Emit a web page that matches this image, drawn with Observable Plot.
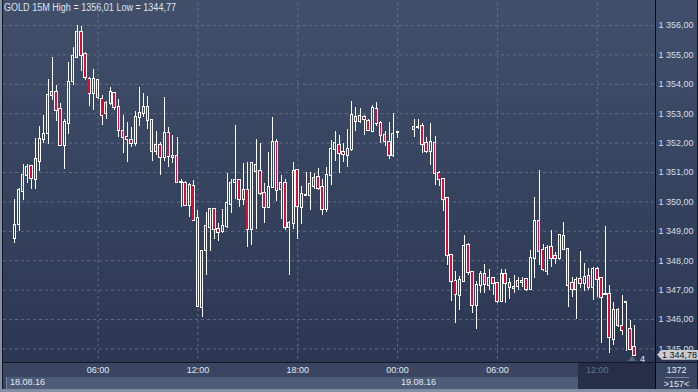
<!DOCTYPE html>
<html><head><meta charset="utf-8">
<script src="https://cdn.jsdelivr.net/npm/d3@7"></script>
<script src="https://cdn.jsdelivr.net/npm/@observablehq/plot@0.6"></script>
<style>
html,body{margin:0;padding:0;background:#1a2130;}
#wrap{position:relative;width:698px;height:392px;overflow:hidden;background:#8390a4;font-family:"Liberation Sans",Arial,sans-serif;}
.a{position:absolute;}
#chart{position:absolute;left:0;top:0;}
</style></head><body>
<div id="wrap">
  <div class="a" style="left:2px;top:0;width:696px;height:389px;background:#121826"></div>
  <div class="a" style="left:3px;top:0;width:694px;height:362px;background:linear-gradient(#414f6a,#2c3853)"></div>
  <div class="a" style="left:3px;top:363px;width:694px;height:26px;background:#3a4661"></div>
  <div class="a" style="left:6px;top:377px;width:572px;height:12px;background:#4d5c79;border-left:1px solid #7584a0"></div>
  <div class="a" style="left:578px;top:363px;width:77px;height:26px;background:#262f46"></div>
  <div class="a" style="left:655px;top:0;width:1px;height:389px;background:#05080e"></div>
  <div class="a" style="left:665px;top:377px;width:24px;height:1px;background:#7b88a0"></div>
  <div class="a" style="left:656px;top:365px;width:41px;text-align:center;font-size:9px;color:#e4e9f0;line-height:11px">1372</div>
  <div class="a" style="left:656px;top:379px;width:41px;text-align:center;font-size:9px;color:#e4e9f0;line-height:11px">&gt;157&lt;</div>
  <div class="a" id="title" style="left:4px;top:1px;font-size:10px;line-height:13px;color:#dde4ee;white-space:nowrap;transform-origin:0 50%">GOLD 15M High = 1356,01 Low = 1344,77</div>
  <div class="a" style="left:10px;top:377px;font-size:9px;line-height:11px;color:#e2e8f0">18.08.16</div>
  <div class="a" id="d2" style="top:377px;font-size:9px;line-height:11px;color:#e2e8f0">19.08.16</div>
  <div id="chart"></div>
  <div class="a" id="marker" style="left:657px;width:41px;height:10px;background:#c9cdd3;clip-path:polygon(0 50%,5px 0,100% 0,100% 100%,5px 100%);"></div>
  <div class="a" id="markerTxt" style="left:662px;font-size:9px;line-height:10px;color:#101010;white-space:nowrap">1 344,78</div>
  <div class="a" id="four" style="left:640px;font-size:9px;line-height:10px;color:#e8eef6">4</div>
  <div class="a" id="tri" style="left:628px;width:0;height:0;border-left:4px solid transparent;border-right:4px solid transparent;border-bottom:5px solid #5b6a86"></div>
</div>
<script>
// ---- data ----
const seg1Start = Date.UTC(2016, 7, 18, 1, 0); // first bar 18.08.16 01:00
const seg1Count = 93;
const seg2Start = Date.UTC(2016, 7, 19, 1, 0); // after the break, 19.08.16 01:00
const seg2Count = 54;

const opens = [1348.74,1349.23,1350.37,1350.89,1351.20,1350.75,1351.36,1352.11,1352.34,1353.61,
1353.72,1353.14,1351.93,1352.68,1354.08,1354.90,1355.76,1355.01,1354.17,1353.68,
1354.13,1353.49,1353.00,1353.36,1353.68,1353.20,1352.38,1352.19,1352.08,1352.00,
1352.88,1353.02,1353.20,1352.77,1351.70,1351.93,1351.50,1352.32,1351.54,1351.54,
1350.66,1350.61,1349.87,1350.52,1349.44,1346.42,1348.35,1349.14,1349.73,1349.05,
1348.98,1349.16,1349.91,1350.66,1350.73,1350.07,1350.39,1349.07,1351.25,1351.02,
1350.30,1349.82,1350.50,1352.02,1350.41,1350.61,1349.12,1349.28,1351.07,1349.82,
1350.22,1350.21,1350.52,1350.82,1350.48,1349.73,1350.89,1351.77,1351.93,1351.68,
1351.57,1351.79,1352.88,1352.75,1352.88,1352.75,1352.38,1353.15,1352.68,1352.27,
1352.02,1351.59,1352.35,1352.45,1352.53,1352.56,1351.97,1351.70,1351.97,1350.98,
1350.75,1350.12,1348.17,1347.28,1346.81,1347.28,1348.53,1347.60,1346.47,1347.17,
1347.53,1347.15,1347.39,1347.21,1346.62,1347.53,1347.21,1347.08,1347.12,1347.26,
1347.35,1347.01,1348.07,1349.32,1348.35,1347.64,1348.44,1348.14,1348.07,1348.82,
1348.37,1347.21,1347.01,1347.35,1347.21,1347.46,1347.10,1347.69,1347.39,1346.85,
1346.85,1345.33,1346.31,1345.76,1346.58,1345.65,1345.06];
const highs = [1350.08,1350.44,1351.27,1351.27,1351.25,1352.15,1352.56,1352.93,1354.15,1354.92,
1353.95,1353.36,1352.79,1354.74,1355.24,1356.01,1355.98,1355.08,1354.22,1354.49,
1354.17,1353.61,1353.43,1353.90,1353.72,1353.47,1352.93,1352.70,1352.52,1353.09,
1353.88,1353.68,1353.59,1352.81,1352.38,1352.02,1353.54,1352.52,1352.25,1352.18,
1350.75,1350.68,1350.64,1350.73,1349.71,1348.35,1349.64,1349.75,1349.75,1349.25,
1349.73,1350.95,1350.75,1352.59,1350.75,1351.29,1351.34,1351.32,1352.11,1351.97,
1350.61,1351.68,1352.86,1352.11,1350.89,1350.75,1349.32,1351.34,1351.09,1350.52,
1351.00,1351.00,1350.95,1351.14,1350.75,1351.16,1352.09,1352.38,1352.25,1351.97,
1352.45,1353.40,1353.20,1353.18,1352.95,1352.81,1353.29,1353.38,1352.72,1352.41,
1352.70,1353.00,1352.38,1352.81,1352.79,1352.68,1352.20,1352.68,1352.22,1351.02,
1350.80,1350.14,1348.17,1347.64,1347.46,1348.85,1348.57,1347.60,1347.28,1347.64,
1347.87,1347.69,1347.44,1347.26,1347.69,1347.71,1347.39,1347.51,1347.42,1347.44,
1347.37,1348.35,1350.14,1351.07,1348.55,1348.51,1349.03,1348.28,1348.87,1349.30,
1348.39,1347.42,1347.44,1348.30,1347.92,1347.73,1347.78,1347.78,1347.44,1349.16,
1347.15,1346.58,1346.37,1346.81,1346.62,1345.97,1345.81];
const lows = [1348.60,1349.00,1350.05,1350.61,1350.41,1350.41,1351.05,1352.00,1351.95,1353.45,
1352.75,1351.91,1351.11,1352.29,1353.96,1354.87,1354.45,1354.13,1353.24,1353.11,
1353.47,1352.59,1352.81,1353.27,1353.11,1352.18,1351.66,1351.35,1351.86,1351.88,
1352.56,1352.86,1352.47,1351.39,1351.59,1350.91,1351.36,1351.16,1351.32,1350.64,
1349.82,1349.84,1349.48,1349.34,1346.40,1346.06,1347.51,1348.32,1348.73,1348.64,
1348.94,1349.10,1349.62,1350.09,1349.82,1349.87,1348.46,1348.53,1349.05,1350.21,
1349.28,1349.80,1350.46,1350.00,1349.41,1349.03,1347.51,1349.07,1348.73,1349.23,
1350.18,1349.71,1350.43,1350.39,1349.55,1349.64,1350.57,1351.39,1350.95,1351.34,
1351.18,1351.73,1352.41,1352.66,1352.25,1352.38,1352.36,1352.56,1352.00,1351.88,
1351.45,1351.50,1352.16,1352.20,1352.45,1351.63,1351.66,1351.23,1350.55,1350.52,
1349.66,1347.83,1346.62,1345.88,1346.31,1347.26,1347.49,1346.19,1345.67,1346.90,
1346.87,1346.99,1346.81,1346.53,1346.60,1346.56,1346.69,1346.87,1346.99,1347.10,
1346.94,1347.01,1347.39,1347.83,1347.62,1347.49,1347.78,1347.87,1348.01,1348.35,
1346.40,1346.76,1346.01,1347.05,1346.94,1346.99,1346.65,1346.76,1345.20,1346.81,
1344.83,1345.13,1345.74,1345.44,1344.92,1344.97,1344.77];
const closes = [1349.20,1350.38,1350.89,1351.16,1350.80,1351.43,1352.12,1352.28,1353.61,1353.72,
1353.11,1351.93,1352.69,1354.06,1354.95,1355.76,1354.99,1354.22,1353.68,1354.15,
1353.54,1352.95,1353.36,1353.72,1353.20,1352.43,1352.18,1352.11,1352.00,1352.86,
1353.00,1353.20,1352.77,1351.70,1351.91,1351.50,1352.34,1351.54,1351.52,1350.66,
1350.65,1349.89,1350.57,1349.37,1346.44,1348.32,1349.16,1349.73,1349.05,1348.96,
1349.16,1349.93,1350.61,1350.73,1350.07,1350.39,1349.07,1351.29,1351.05,1350.30,
1349.80,1350.48,1352.02,1350.39,1350.61,1349.12,1349.25,1351.02,1349.84,1350.25,
1350.23,1350.59,1350.80,1350.46,1349.75,1350.89,1351.77,1351.97,1351.63,1351.61,
1351.79,1352.93,1352.72,1352.90,1352.79,1352.43,1353.18,1352.68,1352.27,1352.04,
1351.57,1352.29,1352.37,1352.54,1352.54,1351.95,1351.70,1352.02,1350.98,1350.75,
1350.09,1348.17,1347.28,1346.85,1347.33,1348.48,1347.60,1346.47,1347.17,1347.53,
1347.19,1347.39,1347.21,1346.60,1347.53,1347.21,1347.10,1347.07,1347.30,1347.30,
1347.03,1348.07,1349.34,1348.30,1347.69,1348.41,1348.07,1348.07,1348.85,1348.37,
1347.17,1347.01,1347.33,1347.21,1347.44,1347.10,1347.71,1347.35,1346.76,1346.84,
1345.38,1346.31,1345.78,1345.63,1346.58,1344.99,1344.78];

const priceTicks = [1345,1346,1347,1348,1349,1350,1351,1352,1353,1354,1355,1356];
const timeTicks = ["2016-08-18T06:00Z","2016-08-18T12:00Z","2016-08-18T18:00Z","2016-08-19T00:00Z","2016-08-19T06:00Z","2016-08-19T12:00Z"];
const dimTicks = ["2016-08-19T12:00Z"];
const lastPrice = 1344.78;

// ---- build ----
const Q = 15 * 60 * 1000;
const times = [];
for (let i = 0; i < seg1Count; i++) times.push(new Date(seg1Start + i * Q));
for (let i = 0; i < seg2Count; i++) times.push(new Date(seg2Start + i * Q));
const candles = times.map((t, i) => ({t, o: opens[i], h: highs[i], l: lows[i], c: closes[i]}));
const ups = candles.filter(d => d.c >= d.o);
const downs = candles.filter(d => d.c < d.o);
const halfUp = 3.6 * 60 * 1000;   // hollow body (stroke outside adds the edges)
const halfDn = 6.3 * 60 * 1000;   // filled body outer width
const fmt = d => {
  const [a, b] = d.toFixed(2).split(".");
  return a.replace(/\B(?=(\d{3})+(?!\d))/g, " ") + "," + b;
};
const tt = timeTicks.map(s => new Date(s));
const dimT = dimTicks.map(s => new Date(s));
const brightT = tt.filter(d => !dimT.some(e => +e === +d));
const grid = {stroke: "#6b7a98", strokeOpacity: 0.75, strokeDasharray: "3,3"};
const crisp = {shapeRendering: "crispEdges"};

const plot = Plot.plot({
  width: 698, height: 392,
  marginLeft: 3, marginRight: 43, marginTop: 2, marginBottom: 30,
  style: {background: "transparent", fontFamily: "'Liberation Sans', Arial, sans-serif", fontSize: "9px", overflow: "visible"},
  x: {type: "utc", domain: [new Date(Date.UTC(2016,7,18,0,19)), new Date(Date.UTC(2016,7,19,15,30))]},
  y: {domain: [1344.537, 1356.782]},
  marks: [
    Plot.gridY(priceTicks, grid),
    Plot.gridX(tt, grid),
    Plot.ruleX(candles, {x: "t", y1: d => Math.max(d.o, d.c), y2: "h", stroke: "#ffffff", strokeWidth: 1, ...crisp}),
    Plot.ruleX(candles, {x: "t", y1: "l", y2: d => Math.min(d.o, d.c), stroke: "#ffffff", strokeWidth: 1, ...crisp}),
    Plot.rect(ups, {
      x1: d => new Date(+d.t - halfUp), x2: d => new Date(+d.t + halfUp),
      y1: "o", y2: "c", fill: "none", stroke: "#ffffff", strokeWidth: 1,
      insetTop: -0.5, insetBottom: -0.5, ...crisp
    }),
    Plot.rect(downs, {
      x1: d => new Date(+d.t - halfDn), x2: d => new Date(+d.t + halfDn),
      y1: "c", y2: "o", fill: "#ffffff", insetTop: -1, insetBottom: -1, ...crisp
    }),
    Plot.rect(downs, {
      x1: d => new Date(+d.t - halfDn), x2: d => new Date(+d.t + halfDn),
      y1: "c", y2: "o", fill: "#dc0a36", insetLeft: 0.9, insetRight: 0.9, ...crisp
    }),
    Plot.axisY(priceTicks, {anchor: "right", tickSize: 0, tickPadding: 3, textAnchor: "start", tickFormat: fmt, fill: "#d6dee9", label: null}),
    Plot.axisX(brightT, {anchor: "bottom", tickSize: 0, tickPadding: 4, tickFormat: d3.utcFormat("%H:%M"), fill: "#e2e8f0", label: null}),
    Plot.axisX(dimT, {anchor: "bottom", tickSize: 0, tickPadding: 4, tickFormat: d3.utcFormat("%H:%M"), fill: "#66718a", label: null})
  ]
});
document.getElementById("chart").appendChild(plot);

const xs = plot.scale("x"), ys = plot.scale("y");
document.getElementById("d2").style.left = (xs.apply(new Date("2016-08-19T00:00Z")) + 4) + "px";
const yl = ys.apply(lastPrice);
document.getElementById("marker").style.top = (yl - 5) + "px";
document.getElementById("markerTxt").style.top = (yl - 5) + "px";
document.getElementById("four").style.top = (yl - 1) + "px";
document.getElementById("tri").style.top = (yl + 1) + "px";
// the reference title runs from x=4 to x=176
const title = document.getElementById("title");
const w = title.getBoundingClientRect().width;
if (w > 0) title.style.transform = "scaleX(" + (172 / w) + ")";
</script>
</body></html>
